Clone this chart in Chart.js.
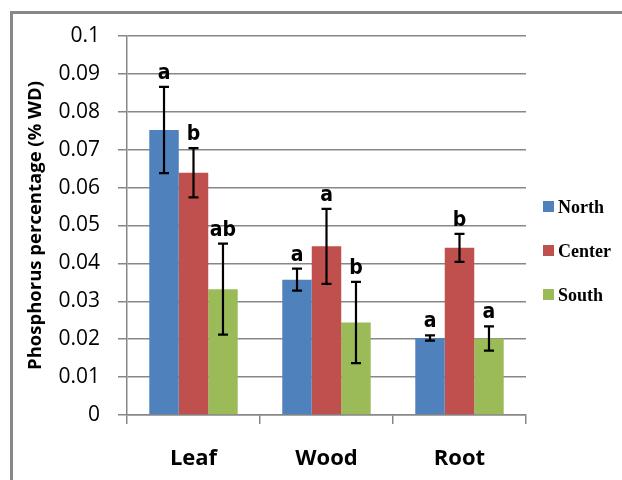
<!DOCTYPE html>
<html>
<head>
<meta charset="utf-8">
<script src="https://cdn.jsdelivr.net/npm/chart.js@4/dist/chart.umd.min.js"></script>
<style>
  html, body { margin: 0; padding: 0; background: #fff; }
  #wrap { width: 622px; height: 480px; }
</style>
</head>
<body>
<div id="wrap"><canvas id="pChart" width="622" height="480"></canvas></div>
<script>
// Categories and series
const categories = ['Leaf', 'Wood', 'Root'];
const seriesNames = ['North', 'Center', 'South'];
const northValues = [0.0752, 0.0357, 0.0203];
const centerValues = [0.0639, 0.0445, 0.0441];
const southValues = [0.0332, 0.0244, 0.0202];
// Error bar half-ranges
const northErrors = [0.0114, 0.0029, 0.0007];
const centerErrors = [0.0065, 0.0099, 0.0037];
const southErrors = [0.0120, 0.0107, 0.0032];
// Significance letters
const northLetters = ['a', 'a', 'a'];
const centerLetters = ['b', 'a', 'b'];
const southLetters = ['ab', 'b', 'a'];
// Y axis ticks
const yMin = 0, yMax = 0.1, yStep = 0.01;

const colors = ['#4F81BD', '#C0504D', '#9BBB59'];
const gridColor = '#878787';

// Outer frame + white background
const framePlugin = {
  id: 'frame',
  beforeDraw(chart) {
    const ctx = chart.ctx;
    ctx.save();
    ctx.fillStyle = '#fff';
    ctx.fillRect(0, 0, chart.width, chart.height);
    ctx.strokeStyle = '#888';
    ctx.lineWidth = 3;
    ctx.strokeRect(11.5, 12.5, 700, 600);
    ctx.restore();
  }
};

// Error bars and letters above them
const errorPlugin = {
  id: 'errorBars',
  afterDatasetsDraw(chart) {
    const ctx = chart.ctx;
    const y = chart.scales.y;
    ctx.save();
    chart.data.datasets.forEach((ds, di) => {
      const meta = chart.getDatasetMeta(di);
      meta.data.forEach((bar, i) => {
        const v = ds.data[i];
        const e = ds.errors[i];
        const yTop = y.getPixelForValue(v + e);
        const yBot = y.getPixelForValue(v - e);
        const x = bar.x;
        ctx.strokeStyle = '#000';
        ctx.lineWidth = 2.2;
        ctx.beginPath();
        ctx.moveTo(x, yTop); ctx.lineTo(x, yBot);
        ctx.moveTo(x - 5, yTop); ctx.lineTo(x + 5, yTop);
        ctx.moveTo(x - 5, yBot); ctx.lineTo(x + 5, yBot);
        ctx.stroke();

        ctx.fillStyle = '#000';
        ctx.font = 'bold 21px "DejaVu Sans Condensed", "DejaVu Sans"';
        ctx.textAlign = 'center';
        ctx.textBaseline = 'alphabetic';
        ctx.fillText(ds.letters[i], x, yTop - 8);
      });
    });
    ctx.restore();
  }
};

// Legend on the right
const legendPlugin = {
  id: 'sideLegend',
  afterDraw(chart) {
    const ctx = chart.ctx;
    ctx.save();
    chart.data.datasets.forEach((ds, i) => {
      const top = 201 + i * 44;
      ctx.fillStyle = ds.backgroundColor;
      ctx.fillRect(543, top, 11, 11);
      ctx.fillStyle = '#000';
      ctx.font = 'bold 18px "Liberation Serif"';
      ctx.textAlign = 'left';
      ctx.textBaseline = 'alphabetic';
      ctx.fillText(ds.label, 558, top + 12);
    });
    ctx.restore();
  }
};

const ctx = document.getElementById('pChart').getContext('2d');
new Chart(ctx, {
  type: 'bar',
  data: {
    labels: categories,
    datasets: [
      { label: seriesNames[0], data: northValues, errors: northErrors, letters: northLetters, backgroundColor: colors[0] },
      { label: seriesNames[1], data: centerValues, errors: centerErrors, letters: centerLetters, backgroundColor: colors[1] },
      { label: seriesNames[2], data: southValues, errors: southErrors, letters: southLetters, backgroundColor: colors[2] }
    ]
  },
  options: {
    responsive: false,
    animation: false,
    devicePixelRatio: 1,
    layout: { padding: { left: 0, top: 36, right: 96, bottom: 0 } },
    datasets: { bar: { categoryPercentage: 0.665, barPercentage: 1.0, borderWidth: 0 } },
    plugins: {
      legend: { display: false },
      tooltip: { enabled: false }
    },
    scales: {
      x: {
        afterFit(scale) { scale.height = 65; },
        grid: { offset: true, drawOnChartArea: false, drawTicks: true, tickLength: 9, color: gridColor, lineWidth: 1.5 },
        border: { color: gridColor, width: 1.5 },
        ticks: { color: '#000', font: { family: 'Open Sans', size: 22, weight: 'bold' }, padding: 22 }
      },
      y: {
        min: yMin,
        max: yMax,
        afterFit(scale) { scale.width = 127; },
        grid: { color: gridColor, lineWidth: 1.5, tickLength: 9 },
        border: { color: gridColor, width: 1.5 },
        ticks: {
          stepSize: yStep,
          color: '#000',
          font: { family: 'Open Sans', size: 21 },
          padding: 18,
          callback: v => String(Number(v.toFixed(2)))
        },
        title: {
          display: true,
          text: 'Phosphorus percentage (% WD)',
          color: '#000',
          font: { family: 'Open Sans', size: 18.5, weight: 'bold' },
          padding: { top: 25, bottom: 0 }
        }
      }
    }
  },
  plugins: [framePlugin, errorPlugin, legendPlugin]
});
</script>
</body>
</html>
